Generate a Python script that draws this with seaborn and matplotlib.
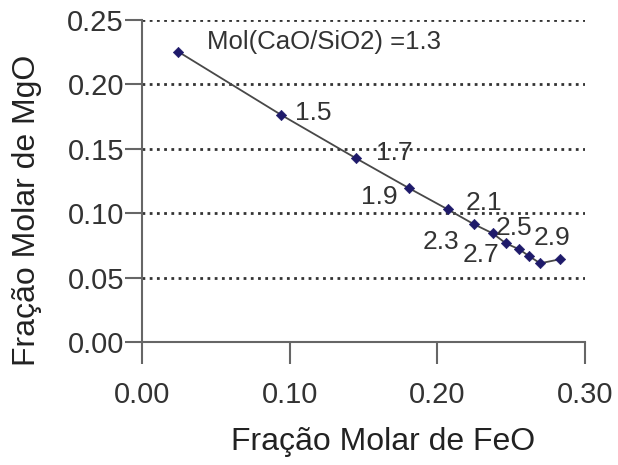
import matplotlib
matplotlib.use("Agg")
import matplotlib.pyplot as plt
import seaborn as sns
import pandas as pd

# Slag composition path: MgO vs FeO molar fraction as basicity rises
feo = [0.0245, 0.0944, 0.1450, 0.1810, 0.2070, 0.2245, 0.2374, 0.2464, 0.2554, 0.2620, 0.2696, 0.2829]
mgo = [0.2254, 0.1762, 0.1426, 0.1193, 0.1030, 0.0916, 0.0844, 0.0766, 0.0720, 0.0668, 0.0611, 0.0642]

# Basicity labels and where they sit (FeO, MgO of the label's left edge / vertical centre)
ratio_labels = ["Mol(CaO/SiO2) =1.3", "1.5", "1.7", "1.9", "2.1", "2.3", "2.5", "2.7", "2.9"]
label_x = [0.0437, 0.1034, 0.1586, 0.1484, 0.2194, 0.1901, 0.2397, 0.2171, 0.2655]
label_y = [0.2332, 0.1778, 0.1467, 0.1128, 0.1079, 0.0779, 0.0885, 0.0675, 0.0807]

x_ticks = [0.00, 0.10, 0.20, 0.30]
y_ticks = [0.00, 0.05, 0.10, 0.15, 0.20, 0.25]

df = pd.DataFrame({"FeO": feo, "MgO": mgo})

sns.set_style("white")
plt.rcParams["font.family"] = ["Liberation Sans", "DejaVu Sans"]

fig = plt.figure(figsize=(6.18, 4.65), dpi=100)
ax = fig.add_axes([0.2298, 0.2645, 0.9466 - 0.2298, 0.957 - 0.2645])

# dotted horizontal gridlines
for yv in y_ticks[1:]:
    ax.axhline(yv, color="#333333", lw=2.0, ls=(0, (1, 1.6)), zorder=1)

sns.lineplot(data=df, x="FeO", y="MgO", sort=False, ax=ax, color="#484848",
             lw=1.3, zorder=2)
sns.scatterplot(data=df, x="FeO", y="MgO", ax=ax, marker="D", s=28,
                color="#1e1a6a", edgecolor="#1e1a6a", zorder=3)

for t, lx, ly in zip(ratio_labels, label_x, label_y):
    ax.text(lx, ly, t, fontsize=18.5 if len(t) > 4 else 19, color="#333333",
            ha="left", va="center", zorder=4)

ax.set_xlim(0.0, 0.30)
ax.set_ylim(0.0, 0.25)
ax.set_xticks(x_ticks)
ax.set_yticks(y_ticks)
ax.set_xticklabels([f"{v:.2f}" for v in x_ticks])
ax.set_yticklabels([f"{v:.2f}" for v in y_ticks])

for side in ["top", "right"]:
    ax.spines[side].set_visible(False)
for side in ["left", "bottom"]:
    ax.spines[side].set_color("#666666")
    ax.spines[side].set_linewidth(1.5)

ax.tick_params(axis="x", direction="out", length=16, width=1.5, color="#666666",
               labelsize=21, labelcolor="#333333", pad=12, bottom=True)
ax.tick_params(axis="y", direction="out", length=12, width=1.5, color="#666666",
               labelsize=21, labelcolor="#333333", pad=1, left=True)

ax.set_xlabel("Fração Molar de FeO", fontsize=23, color="#222222")
ax.set_ylabel("Fração Molar de MgO", fontsize=23, color="#222222")
ax.xaxis.set_label_coords(0.544, -0.265)
ax.yaxis.set_label_coords(-0.226, 0.41)

fig.savefig("out.png", dpi=100, facecolor="white")
